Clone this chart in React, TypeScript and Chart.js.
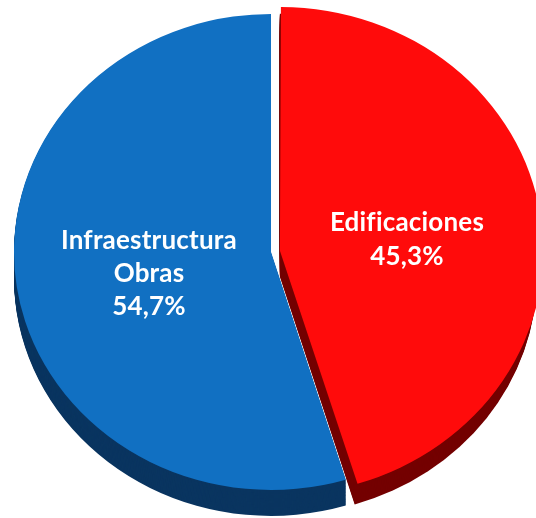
import React, { useEffect, useRef } from "react";
import { Chart, registerables } from "chart.js";

Chart.register(...registerables);

const categories = ["Edificaciones", "Infraestructura Obras"];
const labelLines = [["Edificaciones"], ["Infraestructura", "Obras"]];
const percentLabels = ["45,3%", "54,7%"];
const values = [45.3, 54.7];
const faceColors = ["#FF0B0B", "#1170C2"];
const sideColors = ["#740000", "#0A3560"];
const offsets = [36, 0];

const SCALE_Y = 0.926;
const DEPTH = 28;

const App: React.FC = () => {
  const ref = useRef<HTMLCanvasElement | null>(null);

  useEffect(() => {
    document.body.style.margin = "0";
    const canvas = ref.current;
    if (!canvas) return;

    const tiltPlugin = {
      id: "tilt3d",
      beforeDatasetsDraw(chart: any) {
        const ctx = chart.ctx as CanvasRenderingContext2D;
        const meta = chart.getDatasetMeta(0);
        const first = meta.data[0];
        if (!first) return;
        const cx = first.x;
        const cy = first.y;
        ctx.save();
        ctx.translate(cx, cy);
        ctx.scale(1, SCALE_Y);
        ctx.translate(-cx, -cy);
        meta.data.forEach((el: any, i: number) => {
          const p = el.getProps(["x", "y", "startAngle", "endAngle", "outerRadius"], true);
          const off = (el.options.offset || 0) / 4;
          const mid = (p.startAngle + p.endAngle) / 2;
          const x = p.x + Math.cos(mid) * off;
          const y = p.y + Math.sin(mid) * off;
          ctx.fillStyle = sideColors[i];
          for (let d = DEPTH; d > 0; d -= 1) {
            ctx.beginPath();
            ctx.moveTo(x, y + d);
            ctx.arc(x, y + d, p.outerRadius, p.startAngle, p.endAngle);
            ctx.closePath();
            ctx.fill();
          }
        });
      },
      afterDatasetsDraw(chart: any) {
        const ctx = chart.ctx as CanvasRenderingContext2D;
        ctx.restore();
        const meta = chart.getDatasetMeta(0);
        const factors = [0.5, 0.48];
        const dys = [6, 5];
        const lineH = [34, 33];
        meta.data.forEach((el: any, i: number) => {
          const p = el.getProps(["x", "y", "startAngle", "endAngle", "outerRadius"], true);
          const off = (el.options.offset || 0) / 4;
          const mid = (p.startAngle + p.endAngle) / 2;
          const r = p.outerRadius * factors[i] + off;
          const ax = p.x + Math.cos(mid) * r;
          const ay = p.y + Math.sin(mid) * r * SCALE_Y + dys[i];
          const lines = [...labelLines[i], percentLabels[i]];
          const n = lines.length;
          ctx.save();
          ctx.fillStyle = "#FFFFFF";
          ctx.font = "bold 26px Lato";
          (ctx as any).letterSpacing = "0.2px";
          ctx.textAlign = "center";
          ctx.textBaseline = "middle";
          lines.forEach((t, k) => {
            ctx.fillText(t, ax, ay + (k - (n - 1) / 2) * lineH[i]);
          });
          ctx.restore();
        });
      },
    };

    const chart = new Chart(canvas, {
      type: "pie",
      data: {
        labels: categories,
        datasets: [
          {
            data: values,
            backgroundColor: faceColors,
            borderWidth: 0,
            offset: offsets,
            clip: false as any,
          } as any,
        ],
      },
      options: {
        responsive: false,
        maintainAspectRatio: false,
        animation: false,
        radius: 257,
        layout: { padding: { left: 6, right: 0, top: 0, bottom: 14 } },
        plugins: {
          legend: { display: false },
          tooltip: { enabled: false },
        },
      } as any,
      plugins: [tiltPlugin],
    });

    return () => {
      chart.destroy();
    };
  }, []);

  return (
    <div style={{ width: 536, height: 518, background: "#FFFFFF" }}>
      <canvas ref={ref} width={536} height={518} style={{ display: "block" }} />
    </div>
  );
};

export default App;
